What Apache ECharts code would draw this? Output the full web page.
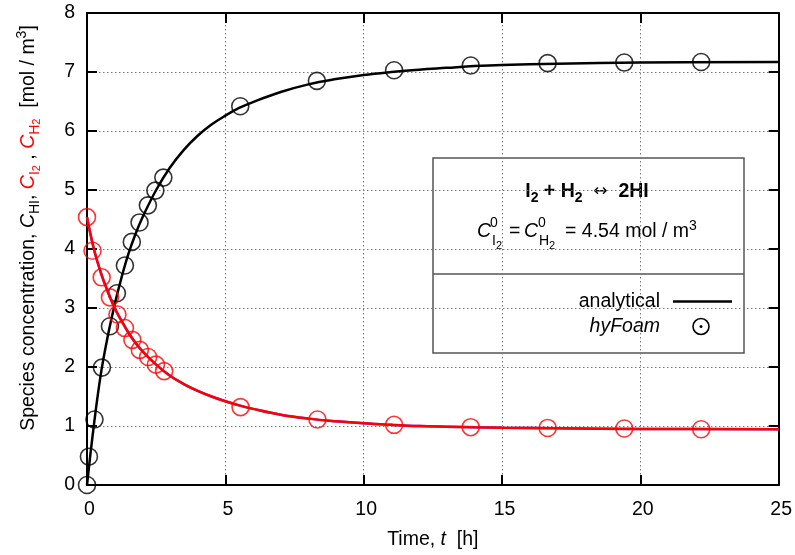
<!DOCTYPE html>
<html>
<head>
<meta charset="utf-8">
<script src="https://cdn.jsdelivr.net/npm/echarts@6/dist/echarts.min.js"></script>
<style>
html,body{margin:0;padding:0;background:#fff;}
#chart{width:795px;height:555px;}
</style>
</head>
<body>
<div id="chart"></div>
<script>
// ---- Data ----
const xTicks = [0, 5, 10, 15, 20, 25];
const yTicks = [0, 1, 2, 3, 4, 5, 6, 7, 8];

// analytical solution curves
const tLine = [0, 0.25, 0.5, 0.75, 1, 1.25, 1.5, 1.75, 2, 2.5, 3, 3.5, 4, 4.5, 5, 5.5, 6, 7, 8, 9, 10, 11, 12, 13, 14, 15, 17, 20, 25];
const cHILine = [0, 1.02, 1.88, 2.52, 3.06, 3.52, 3.92, 4.25, 4.53, 5.0, 5.38, 5.68, 5.92, 6.11, 6.26, 6.39, 6.49, 6.66, 6.79, 6.88, 6.95, 7.0, 7.04, 7.07, 7.1, 7.12, 7.14, 7.16, 7.17];
const cI2Line = [4.54, 4.0, 3.6, 3.28, 3.0, 2.78, 2.58, 2.41, 2.27, 2.04, 1.85, 1.71, 1.595, 1.50, 1.42, 1.35, 1.29, 1.19, 1.125, 1.08, 1.045, 1.02, 1.0, 0.988, 0.978, 0.97, 0.96, 0.95, 0.945];

// hyFoam simulation points
const tHIPts = [0, 0.07, 0.27, 0.54, 0.83, 1.08, 1.37, 1.62, 1.9, 2.2, 2.47, 2.76, 5.54, 8.31, 11.1, 13.87, 16.65, 19.42, 22.2];
const cHIPts = [0, 0.48, 1.11, 1.99, 2.69, 3.25, 3.72, 4.12, 4.45, 4.74, 4.99, 5.21, 6.42, 6.85, 7.03, 7.11, 7.15, 7.16, 7.17];
const tI2Pts = [0, 0.2, 0.53, 0.83, 1.1, 1.37, 1.64, 1.91, 2.21, 2.49, 2.79, 5.55, 8.33, 11.1, 13.87, 16.65, 19.42, 22.2];
const cI2Pts = [4.54, 3.97, 3.52, 3.18, 2.89, 2.66, 2.46, 2.29, 2.17, 2.04, 1.93, 1.32, 1.11, 1.02, 0.98, 0.967, 0.957, 0.945];

const FONT = '"Liberation Sans", Arial, Helvetica, sans-serif';
const FS = 19.5;
const pairs = (xs, ys) => xs.map((x, i) => [x, ys[i]]);

const chart = echarts.init(document.getElementById('chart'), null, {renderer: 'canvas'});

const gridLine = () => ({show: true, lineStyle: {color: '#777', width: 1, type: [1.5, 2.5]}});
const frame = () => ({show: true, onZero: false, lineStyle: {color: '#000', width: 2}});
const tick = () => ({show: true, inside: true, length: 10, lineStyle: {color: '#000', width: 2}});

const txt = (x, y, text, size, extra) => ({type: 'text', x: x, y: y,
  style: Object.assign({text: text, fontSize: size, fontFamily: FONT, fill: '#000', verticalAlign: 'middle'}, extra || {})});

const option = {
  animation: false,
  backgroundColor: '#fff',
  textStyle: {fontFamily: FONT},
  grid: {left: 87, right: 16, top: 13, bottom: 63, containLabel: false},
  xAxis: [{
    type: 'value', min: 0, max: 25, interval: 5, position: 'bottom',
    axisLine: frame(), axisTick: tick(), splitLine: gridLine(),
    axisLabel: {show: true, color: '#000', fontSize: FS, margin: 15, fontFamily: FONT, padding: [0, 0, 0, 5],
      formatter: v => xTicks.includes(v) ? String(v) : ''},
    name: '{n|Time, }{i|t}{n|  [h]}', nameLocation: 'middle', nameGap: 45,
    nameTextStyle: {rich: {
      n: {fontSize: FS, fontFamily: FONT, color: '#000'},
      i: {fontSize: FS, fontFamily: FONT, fontStyle: 'italic', color: '#000'}
    }}
  }, {
    type: 'value', min: 0, max: 25, interval: 5, position: 'top',
    axisLine: frame(), axisTick: tick(), axisLabel: {show: false}, splitLine: {show: false}
  }],
  yAxis: [{
    type: 'value', min: 0, max: 8, interval: 1, position: 'left',
    axisLine: frame(), axisTick: tick(), splitLine: gridLine(),
    axisLabel: {show: true, color: '#000', fontSize: FS, margin: 12, fontFamily: FONT,
      formatter: v => yTicks.includes(v) ? String(v) : ''},
    name: '{n|Species concentration, }{i|C}{s|HI}{n|, }{ri|C}{rs|I}{rss|2}{n| , }{ri|C}{rs|H}{rss|2}{n|  [mol / m}{sup|3}{n|]}',
    nameLocation: 'middle', nameRotate: 90, nameGap: 45,
    nameTextStyle: {padding: [0, 0, 0, 42], rich: {
      n: {fontSize: FS, fontFamily: FONT, color: '#000', lineHeight: 27, verticalAlign: 'middle'},
      i: {fontSize: FS, fontFamily: FONT, color: '#000', fontStyle: 'italic', lineHeight: 27, verticalAlign: 'middle'},
      s: {fontSize: 14, fontFamily: FONT, color: '#000', lineHeight: 15, verticalAlign: 'bottom'},
      ri: {fontSize: FS, fontFamily: FONT, color: '#f00', fontStyle: 'italic', lineHeight: 27, verticalAlign: 'middle'},
      rs: {fontSize: 14, fontFamily: FONT, color: '#f00', lineHeight: 15, verticalAlign: 'bottom'},
      rss: {fontSize: 11, fontFamily: FONT, color: '#f00', lineHeight: 8, verticalAlign: 'bottom'},
      sup: {fontSize: 14, fontFamily: FONT, color: '#000', lineHeight: 15, verticalAlign: 'top'}
    }}
  }, {
    type: 'value', min: 0, max: 8, interval: 1, position: 'right',
    axisLine: frame(), axisTick: tick(), axisLabel: {show: false}, splitLine: {show: false}
  }],
  series: [
    {name: 'analytical HI', type: 'line', data: pairs(tLine, cHILine), smooth: 0.4, showSymbol: false,
      lineStyle: {color: '#000', width: 2.5}, z: 3},
    {name: 'hyFoam HI', type: 'scatter', data: pairs(tHIPts, cHIPts), symbol: 'circle', symbolSize: 17,
      itemStyle: {color: 'rgba(0,0,0,0)', borderColor: '#000', borderWidth: 1.6}, z: 4},
    {name: 'analytical H2', type: 'line', data: pairs(tLine, cI2Line), smooth: 0.4, showSymbol: false,
      lineStyle: {color: '#4040ff', width: 2.5}, z: 5},
    {name: 'analytical I2', type: 'line', data: pairs(tLine, cI2Line), smooth: 0.4, showSymbol: false,
      lineStyle: {color: '#ff0000', width: 2.5}, z: 6},
    {name: 'hyFoam I2', type: 'scatter', data: pairs(tI2Pts, cI2Pts), symbol: 'circle', symbolSize: 17,
      itemStyle: {color: 'rgba(0,0,0,0)', borderColor: '#ff0000', borderWidth: 1.6}, z: 7}
  ],
  graphic: [{
    type: 'group', z: 100,
    children: [
      {type: 'rect', shape: {x: 433, y: 158, width: 311, height: 195},
        style: {fill: '#fff', stroke: '#555', lineWidth: 1.5}},
      {type: 'line', shape: {x1: 433, y1: 274, x2: 744, y2: 274}, style: {stroke: '#555', lineWidth: 1.5}},
      {type: 'text', x: 587, y: 192, style: {
        text: '{b|I}{bs|2}{b| + H}{bs|2}{a|  ↔  }{b|2HI}', align: 'center', verticalAlign: 'middle',
        rich: {
          b: {fontSize: FS, fontWeight: 'bold', fontFamily: FONT, fill: '#000', lineHeight: 26, verticalAlign: 'middle'},
          bs: {fontSize: 14, fontWeight: 'bold', fontFamily: FONT, fill: '#000', lineHeight: 15, verticalAlign: 'bottom'},
          a: {fontSize: 17, fontFamily: '"DejaVu Sans", sans-serif', fill: '#000', lineHeight: 26, verticalAlign: 'middle'}
        }}},
      // C^0_{I2} = C^0_{H2} = 4.54 mol / m^3
      txt(477, 232, 'C', FS, {fontStyle: 'italic'}),
      txt(490, 223, '0', 14),
      txt(492, 241, 'I', 14),
      txt(496, 246, '2', 11),
      txt(509, 232, '=', FS),
      txt(524, 232, 'C', FS, {fontStyle: 'italic'}),
      txt(538, 223, '0', 14),
      txt(539, 241, 'H', 14),
      txt(549, 246, '2', 11),
      {type: 'text', x: 565, y: 232, style: {
        text: '{n|= 4.54 mol / m}{s|3}', verticalAlign: 'middle',
        rich: {
          n: {fontSize: FS, fontFamily: FONT, fill: '#000', lineHeight: 26, verticalAlign: 'middle'},
          s: {fontSize: 14, fontFamily: FONT, fill: '#000', lineHeight: 15, verticalAlign: 'top'}
        }}},
      // legend entries
      txt(660, 302, 'analytical', FS, {align: 'right'}),
      {type: 'line', shape: {x1: 673, y1: 301.5, x2: 732, y2: 301.5}, style: {stroke: '#000', lineWidth: 2.5}},
      txt(660, 327, 'hyFoam', FS, {align: 'right', fontStyle: 'italic'}),
      {type: 'circle', shape: {cx: 701, cy: 326.5, r: 8}, style: {fill: 'none', stroke: '#000', lineWidth: 1.6}},
      {type: 'circle', shape: {cx: 701, cy: 326.5, r: 1.5}, style: {fill: '#000'}}
    ]
  }]
};
chart.setOption(option);
</script>
</body>
</html>
